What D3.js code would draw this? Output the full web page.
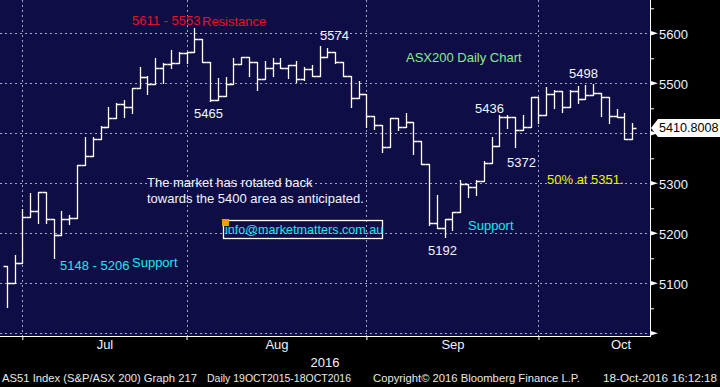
<!DOCTYPE html>
<html>
<head>
<meta charset="utf-8">
<script src="https://cdn.jsdelivr.net/npm/d3@7"></script>
<style>
  body { margin: 0; background: #000; }
  svg { display: block; font-family: "Liberation Sans", Arial, sans-serif; }
</style>
</head>
<body>
<div id="chart-area"><svg></svg></div>
<script>
// daily bars, 29 Jun 2016 .. 18 Oct 2016
const opens = [5135, 5101, 5141, 5232, 5245, 5282, 5228, 5196, 5228, 5230,
  5337, 5355, 5388, 5412, 5430, 5459, 5452, 5490, 5512, 5498,
  5530, 5538, 5541, 5560, 5563, 5589, 5542, 5467, 5475, 5498,
  5538, 5553, 5543, 5508, 5531, 5540, 5531, 5537, 5508, 5529,
  5515, 5553, 5563, 5543, 5515, 5470, 5478, 5435, 5417, 5373,
  5431, 5413, 5423, 5385, 5339, 5220, 5210, 5228, 5242, 5298,
  5293, 5305, 5340, 5375, 5433, 5433, 5407, 5412, 5473, 5437,
  5478, 5485, 5453, 5485, 5469, 5477, 5480, 5473, 5435, 5433, 5388];
const highs = [5135, 5157, 5248, 5280, 5282, 5282, 5228, 5245, 5237, 5337,
  5393, 5393, 5415, 5452, 5461, 5467, 5490, 5533, 5515, 5550,
  5540, 5567, 5563, 5563, 5611, 5589, 5542, 5510, 5512, 5550,
  5553, 5553, 5543, 5545, 5550, 5550, 5537, 5545, 5533, 5537,
  5574, 5570, 5563, 5543, 5515, 5505, 5478, 5435, 5417, 5431,
  5431, 5440, 5423, 5385, 5339, 5277, 5228, 5242, 5307, 5298,
  5307, 5345, 5393, 5436, 5437, 5433, 5437, 5473, 5473, 5492,
  5487, 5485, 5487, 5495, 5497, 5498, 5480, 5473, 5448, 5441, 5420];
const lows = [5052, 5101, 5141, 5232, 5220, 5220, 5150, 5196, 5218, 5230,
  5337, 5355, 5388, 5412, 5430, 5433, 5441, 5490, 5479, 5498,
  5500, 5531, 5540, 5540, 5563, 5542, 5465, 5467, 5475, 5498,
  5538, 5515, 5487, 5508, 5515, 5530, 5510, 5503, 5507, 5515,
  5515, 5553, 5540, 5515, 5453, 5470, 5413, 5408, 5363, 5373,
  5407, 5413, 5359, 5339, 5217, 5210, 5192, 5207, 5242, 5273,
  5277, 5305, 5340, 5375, 5410, 5372, 5407, 5412, 5420, 5437,
  5450, 5442, 5453, 5460, 5469, 5477, 5435, 5421, 5432, 5388, 5388];
const closes = [5101, 5141, 5232, 5245, 5282, 5228, 5196, 5228, 5230, 5337,
  5355, 5388, 5412, 5430, 5459, 5452, 5490, 5512, 5498, 5530,
  5538, 5541, 5560, 5563, 5589, 5542, 5467, 5475, 5498, 5538,
  5553, 5543, 5508, 5531, 5540, 5531, 5537, 5508, 5529, 5515,
  5553, 5563, 5543, 5515, 5470, 5478, 5435, 5417, 5373, 5431,
  5413, 5423, 5385, 5339, 5220, 5210, 5228, 5242, 5298, 5293,
  5305, 5340, 5375, 5433, 5433, 5407, 5412, 5473, 5437, 5478,
  5485, 5453, 5485, 5469, 5477, 5480, 5473, 5435, 5433, 5388, 5410.8008];

const monthLabels = ["Jul", "Aug", "Sep", "Oct"];
const monthStarts = [2, 23, 46, 68]; // bar index of the first trading day
const monthDays = [21, 23, 22, 21];
const priceTicks = [5000, 5100, 5200, 5300, 5400, 5500, 5600];
const minorTicks = [5050, 5150, 5250, 5350, 5450, 5550, 5650];
const lastPrice = 5410.8008;

const chartSize = { width: 720, height: 387 };
const plot = { right: 650, bottom: 336 };

const colors = {
  bg: "#0f0d46",
  red: "#e8121e",
  green: "#8ee88e",
  cyan: "#1ee6ef",
  yellow: "#f0f000",
  white: "#f2f5ff",
  grid: "#a8a8bc"
};

const notes = [
  { text: "5611 - 5553", x: 132, y: 25, color: colors.red },
  { text: "Resistance", x: 202, y: 26, color: colors.red },
  { text: "5465", x: 194, y: 118, color: colors.white },
  { text: "5574", x: 320, y: 40, color: colors.white },
  { text: "ASX200 Daily Chart", x: 406, y: 62, color: colors.green },
  { text: "5498", x: 569, y: 78, color: colors.white },
  { text: "5436", x: 475, y: 113, color: colors.white },
  { text: "5372", x: 507, y: 167, color: colors.white },
  { text: "50% at 5351.", x: 547, y: 184, color: colors.yellow },
  { text: "5192", x: 428, y: 255, color: colors.white },
  { text: "Support", x: 468, y: 230, color: colors.cyan },
  { text: "5148 - 5206", x: 60, y: 270, color: colors.cyan },
  { text: "Support", x: 132, y: 267, color: colors.cyan },
  { text: "The market has rotated back", x: 147, y: 187, color: colors.white },
  { text: "towards the 5400 area as anticipated.", x: 147, y: 203, color: colors.white }
];

const footer = [
  { text: "AS51 Index (S&P/ASX 200) Graph 217", x: 2, w: 195 },
  { text: "Daily 19OCT2015-18OCT2016", x: 207, w: 144 },
  { text: "Copyright\u00a9 2016 Bloomberg Finance L.P.", x: 373, w: 207 },
  { text: "18-Oct-2016 16:12:18", x: 603, w: 114 }
];

const px = v => Math.round(v) + 0.5;

const drawChart = () => {
  const svg = d3
    .select("#chart-area svg")
    .attr("width", chartSize.width)
    .attr("height", chartSize.height);

  svg.append("rect")
    .attr("width", chartSize.width)
    .attr("height", chartSize.height)
    .attr("fill", "#000");

  svg.append("rect")
    .attr("width", plot.right)
    .attr("height", plot.bottom)
    .attr("fill", colors.bg);

  const x = d3.scaleLinear().domain([0, opens.length - 1]).range([6.7, 632.3]);
  const y = d3.scaleLinear().domain([5000, 5600]).range([333.3, 33.3]);

  // grid
  const grid = svg.append("g")
    .attr("stroke", colors.grid)
    .attr("stroke-width", 1)
    .attr("stroke-dasharray", "2,3");
  grid.selectAll(".h").data(priceTicks).enter().append("line")
    .attr("x1", 0).attr("x2", plot.right)
    .attr("y1", d => px(y(d))).attr("y2", d => px(y(d)));
  grid.selectAll(".v").data(monthStarts).enter().append("line")
    .attr("x1", d => px(x(d))).attr("x2", d => px(x(d)))
    .attr("y1", 0).attr("y2", plot.bottom);

  // OHLC bars
  const bars = d3.range(opens.length).map(i => ({
    o: opens[i], h: highs[i], l: lows[i], c: closes[i], i
  }));
  svg.append("g")
    .selectAll("path")
    .data(bars)
    .enter()
    .append("path")
    .attr("fill", "none")
    .attr("stroke", "#fff")
    .attr("stroke-width", 1.3)
    .attr("d", d => {
      const cx = px(x(d.i));
      return `M${cx},${px(y(d.h)) - 0.5}V${px(y(d.l)) + 0.5}` +
        `M${cx - 4},${px(y(d.o))}H${cx}` +
        `M${cx},${px(y(d.c))}H${cx + 4}`;
    });

  // notes
  svg.append("g")
    .attr("font-size", 13)
    .selectAll("text")
    .data(notes)
    .enter()
    .append("text")
    .attr("x", d => d.x)
    .attr("y", d => d.y)
    .attr("fill", d => d.color)
    .text(d => d.text);

  // email box
  svg.append("rect")
    .attr("x", 223.5).attr("y", 220.5)
    .attr("width", 159).attr("height", 18)
    .attr("fill", "none")
    .attr("stroke", "#fff")
    .attr("stroke-width", 1.3);
  svg.append("rect")
    .attr("x", 222).attr("y", 219)
    .attr("width", 7).attr("height", 7)
    .attr("fill", "#f49c00");
  svg.append("text")
    .attr("x", 225).attr("y", 234)
    .attr("font-size", 12.6)
    .attr("fill", colors.cyan)
    .text("info@marketmatters.com.au");

  // right axis
  const axisColor = "#eef2ff";
  svg.append("line")
    .attr("x1", plot.right + 0.5).attr("x2", plot.right + 0.5)
    .attr("y1", 0).attr("y2", plot.bottom)
    .attr("stroke", "#fff");

  const yMinor = d3.axisRight(y).tickValues(minorTicks).tickSize(4).tickFormat("");
  svg.append("g")
    .attr("class", "y minor")
    .attr("transform", `translate(${plot.right},0)`)
    .call(yMinor)
    .call(g => g.select(".domain").remove())
    .call(g => g.selectAll("line").attr("stroke", "#fff"));

  // the 5400 label sits under the last-price flag, so it is left out
  const yAxis = d3.axisRight(y)
    .tickValues(priceTicks.filter(v => v > 5000 && v !== 5400))
    .tickSize(0)
    .tickPadding(9)
    .tickFormat(d3.format("d"));
  svg.append("g")
    .attr("class", "y axis")
    .attr("transform", `translate(${plot.right},0)`)
    .call(yAxis)
    .call(g => g.select(".domain").remove())
    .call(g => g.selectAll("text")
      .attr("fill", axisColor)
      .attr("font-size", 13)
      .attr("font-family", "Liberation Sans, Arial, sans-serif")
      .attr("dy", "0.4em"));

  svg.append("g")
    .selectAll("path")
    .data(priceTicks)
    .enter()
    .append("path")
    .attr("fill", "#fff")
    .attr("d", d => {
      const ty = y(d);
      return `M${plot.right},${ty - 2.5}L${plot.right + 8},${ty}L${plot.right},${ty + 2.5}Z`;
    });

  // last price flag
  const ly = y(lastPrice);
  svg.append("path")
    .attr("fill", "#fff")
    .attr("d", `M${plot.right + 1},${ly}L${plot.right + 8},${ly - 9}H720V${ly + 9}H${plot.right + 8}Z`);
  svg.append("text")
    .attr("x", 659).attr("y", ly + 4.5)
    .attr("font-size", 12.6)
    .attr("fill", "#000")
    .text(d3.format(".4f")(lastPrice));

  // bottom axis
  svg.append("line")
    .attr("x1", 0).attr("x2", plot.right + 1)
    .attr("y1", plot.bottom + 0.5).attr("y2", plot.bottom + 0.5)
    .attr("stroke", "#fff");

  const xTicks = d3.axisBottom(x).tickValues(monthStarts).tickSize(4).tickFormat("");
  svg.append("g")
    .attr("class", "x ticks")
    .attr("transform", `translate(0,${plot.bottom})`)
    .call(xTicks)
    .call(g => g.select(".domain").remove())
    .call(g => g.selectAll("line").attr("stroke", "#fff"));

  const labelPos = monthStarts.map((s, i) => s + monthDays[i] / 2);
  const xAxis = d3.axisBottom(x)
    .tickValues(labelPos)
    .tickSize(0)
    .tickPadding(4)
    .tickFormat((d, i) => monthLabels[i]);
  svg.append("g")
    .attr("class", "x axis")
    .attr("transform", `translate(0,${plot.bottom})`)
    .call(xAxis)
    .call(g => g.select(".domain").remove())
    .call(g => g.selectAll("text")
      .attr("fill", axisColor)
      .attr("font-size", 13)
      .attr("font-family", "Liberation Sans, Arial, sans-serif"));

  svg.append("text")
    .attr("x", 325).attr("y", 367)
    .attr("text-anchor", "middle")
    .attr("font-size", 13)
    .attr("fill", axisColor)
    .text("2016");

  svg.append("g")
    .attr("font-size", 11.5)
    .attr("fill", "#e8e8e8")
    .selectAll("text")
    .data(footer)
    .enter()
    .append("text")
    .attr("x", d => d.x)
    .attr("y", 382)
    .attr("textLength", d => d.w)
    .attr("lengthAdjust", "spacingAndGlyphs")
    .text(d => d.text);
};

window.onload = drawChart;
</script>
</body>
</html>
